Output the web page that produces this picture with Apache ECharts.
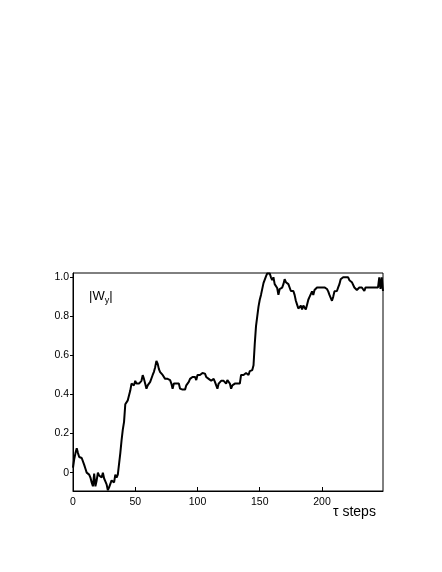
<!DOCTYPE html>
<html>
<head>
<meta charset="utf-8">
<script src="https://cdn.jsdelivr.net/npm/echarts@6/dist/echarts.min.js"></script>
<style>
html,body{margin:0;padding:0;background:#fff;}
#c{width:442px;height:572px;}
</style>
</head>
<body>
<div id="c"></div>
<script>
// |W_y| for tau steps 0..249
var wyValues = [
 0.025,0.07,0.1,0.125,0.1,0.08,0.075,0.075,0.07,0.04,
 0.02,0.0,0.0,-0.01,-0.025,-0.05,-0.07,-0.005,-0.07,-0.04,
 0.0,-0.015,-0.01,-0.025,0.0,-0.03,-0.045,-0.06,-0.09,-0.075,
 -0.07,-0.04,-0.05,-0.05,-0.01,-0.025,-0.01,0.0,0.1,0.165,
 0.22,0.26,0.35,0.36,0.37,0.36,0.42,0.456,0.465,0.447,
 0.47,0.456,0.456,0.456,0.465,0.47,0.499,0.48,0.455,0.43,
 0.447,0.456,0.465,0.47,0.5,0.516,0.54,0.572,0.558,0.53,
 0.515,0.507,0.5,0.5,0.48,0.48,0.48,0.48,0.474,0.456,
 0.43,0.456,0.456,0.456,0.456,0.456,0.43,0.425,0.425,0.425,
 0.425,0.447,0.456,0.465,0.48,0.48,0.49,0.5,0.49,0.474,
 0.5,0.5,0.5,0.5,0.51,0.52,0.507,0.49,0.48,0.48,
 0.48,0.47,0.465,0.48,0.465,0.456,0.43,0.456,0.465,0.47,
 0.47,0.47,0.474,0.456,0.474,0.465,0.456,0.43,0.447,0.456,
 0.456,0.456,0.456,0.456,0.456,0.5,0.5,0.5,0.5,0.51,
 0.52,0.5,0.52,0.52,0.525,0.55,0.66,0.75,0.8,0.85,
 0.885,0.91,0.92,0.97,0.965,1.005,1.02,1.025,1.02,1.0,
 0.985,1.0,0.965,0.965,0.945,0.91,0.94,0.947,0.947,0.965,
 0.99,0.975,0.965,0.965,0.955,0.93,0.93,0.93,0.91,0.88,
 0.86,0.84,0.84,0.855,0.835,0.855,0.845,0.835,0.86,0.885,
 0.9,0.91,0.928,0.91,0.935,0.94,0.948,0.948,0.948,0.948,
 0.948,0.948,0.948,0.948,0.94,0.928,0.91,0.895,0.88,0.9,
 0.928,0.93,0.93,0.948,0.965,0.99,0.995,1.0,0.99,1.0,
 1.0,1.0,0.985,0.985,0.975,0.965,0.948,0.94,0.935,0.928,
 0.948,0.948,0.948,0.948,0.93,0.948,0.948,0.948,0.948,0.948,
 0.948,0.948,0.948,0.948,0.948,0.948,1.0,0.94,1.0,0.93
];
var xTicks = [0, 50, 100, 150, 200];
var yTicks = [0, 0.2, 0.4, 0.6, 0.8, 1.0];
var yLabelText = ['0', '0.2', '0.4', '0.6', '0.8', '1.0'];
var yAxisName = '|W{sub|y}|';
var xAxisName = 'τ steps';

var seriesData = wyValues.map(function (v, i) { return [i, v]; });
var FONT = '"Liberation Sans", Arial, Helvetica, sans-serif';

var chart = echarts.init(document.getElementById('c'), null, {renderer: 'canvas'});
chart.setOption({
  animation: false,
  backgroundColor: '#fff',
  grid: {left: 73, right: 59, top: 273, bottom: 81, show: true, borderColor: '#000', borderWidth: 1, backgroundColor: 'transparent'},
  xAxis: {
    type: 'value', min: 0, max: 249,
    axisLine: {show: true, onZero: false, lineStyle: {color: '#000', width: 1}},
    axisTick: {show: true, inside: true, length: 4, customValues: xTicks, lineStyle: {color: '#000'}},
    axisLabel: {show: true, customValues: xTicks, margin: 6, color: '#000', fontSize: 10.5, fontFamily: FONT},
    splitLine: {show: false}
  },
  yAxis: {
    type: 'value', min: -0.094, max: 1.022,
    axisLine: {show: true, onZero: false, lineStyle: {color: '#000', width: 1}},
    axisTick: {show: true, inside: false, length: 3, customValues: yTicks, lineStyle: {color: '#000'}},
    axisLabel: {show: true, customValues: yTicks, margin: 4, color: '#000', fontSize: 10.5, fontFamily: FONT,
      formatter: function (v) { var k = yTicks.findIndex(function (t) { return Math.abs(t - v) < 1e-6; }); return k >= 0 ? yLabelText[k] : ''; }},
    splitLine: {show: false}
  },
  graphic: [
    {type: 'text', left: 89, top: 290, style: {text: yAxisName, fill: '#000', font: '13px ' + FONT,
      rich: {sub: {fontSize: 9, fontFamily: FONT, fill: '#000', padding: [8, 0, 0, 0]}}}},
    {type: 'text', left: 333, top: 505, style: {text: xAxisName, fill: '#000', font: '14px ' + FONT}}
  ],
  series: [{
    type: 'line', data: seriesData, showSymbol: false, symbol: 'none',
    lineStyle: {color: '#000', width: 2}, clip: true
  }]
});
</script>
</body>
</html>
